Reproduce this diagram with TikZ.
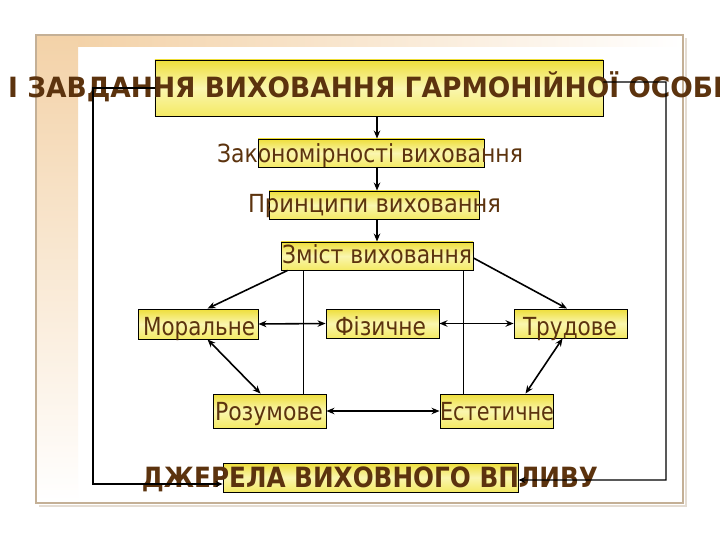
\documentclass[tikz,border=0pt]{standalone}
\usepackage{fontspec}
\setmainfont{DejaVu Sans}
\usepackage{graphicx}
\usetikzlibrary{arrows.meta,calc}
\definecolor{txt}{RGB}{92,51,14}
\definecolor{ytop}{RGB}{238,222,58}
\definecolor{ymid}{RGB}{250,246,175}
\definecolor{ybot}{RGB}{244,234,100}
\definecolor{tanc}{RGB}{243,210,168}
\definecolor{framec}{RGB}{196,176,150}
\definecolor{shadowc}{RGB}{228,220,210}
\newlength\fitlen
\newcommand\fitto[2]{\settowidth\fitlen{#2}\pgfmathsetmacro\fitsx{#1/\fitlen}\scalebox{\fitsx}[1]{#2}}
\begin{document}
\begin{tikzpicture}[x=1bp,y=-1bp,
  ybox/.style={draw=black, line width=0.9bp, top color=ytop, bottom color=ybot, middle color=ymid, inner sep=0pt},
  lbl/.style={text=txt, inner sep=0pt, anchor=base, font=\fontsize{25}{25}\selectfont},
  blbl/.style={text=txt, inner sep=0pt, anchor=base, font=\bfseries\fontsize{28}{28}\selectfont},
  arr/.style={line width=1.6bp, -{Stealth[length=8bp,width=6.5bp]}},
  darr/.style={line width=1.6bp, {Stealth[length=8bp,width=6.5bp]}-{Stealth[length=8bp,width=6.5bp]}},
  tline/.style={line width=1.2bp, -{Stealth[length=7bp,width=6bp]}},
  thinline/.style={line width=1bp}]
\useasboundingbox (0,0) rectangle (720,540);
% slide background
\fill[white] (0,0) rectangle (720,540);
\shade[top color=tanc, bottom color=white] (36,35) rectangle (78,503);
\shade[left color=tanc, right color=white] (78,35) rectangle (683,47);
\draw[shadowc, line width=1.5bp] (39,506) -- (686,506) -- (686,38);
\draw[framec, line width=2bp] (36,35) rectangle (683,503);
% boxes
\node[ybox, minimum width=448bp, minimum height=56bp] (title) at (379,88) {};
\node[ybox, minimum width=226bp, minimum height=28bp] (zak) at (371,153) {};
\node[ybox, minimum width=210bp, minimum height=28bp] (pryn) at (374,205) {};
\node[ybox, minimum width=192bp, minimum height=28bp] (zmist) at (377,256) {};
\node[ybox, minimum width=120bp, minimum height=30bp] (moral) at (198,324) {};
\node[ybox, minimum width=113bp, minimum height=29bp] (fiz) at (382.5,323.5) {};
\node[ybox, minimum width=113bp, minimum height=29bp] (trud) at (570.5,323.5) {};
\node[ybox, minimum width=113bp, minimum height=34bp] (rozum) at (269.5,411) {};
\node[ybox, minimum width=113bp, minimum height=34bp] (estet) at (496.5,411) {};
\node[ybox, minimum width=295bp, minimum height=29bp] (dzh) at (370.5,477.5) {};
% texts
\node[blbl, anchor=base west] (ttitle) at (8,98) {\fitto{727bp}{I ЗАВДАННЯ ВИХОВАННЯ ГАРМОНІЙНОЇ ОСОБИ}};
\node[lbl] (tzak) at (370,163) {\fitto{306bp}{Закономірності виховання}};
\node[lbl] (tpryn) at (374.5,213) {\fitto{253bp}{Принципи виховання}};
\node[lbl] (tzmist) at (377,264) {\fitto{190bp}{Зміст виховання}};
\node[lbl] (tmoral) at (199,335) {\fitto{112bp}{Моральне}};
\node[lbl] (tfiz) at (380.5,335) {\fitto{91bp}{Фізичне}};
\node[lbl] (ttrud) at (570,335) {\fitto{94bp}{Трудове}};
\node[lbl] (trozum) at (269,420) {\fitto{108bp}{Розумове}};
\node[lbl] (testet) at (497,420) {\fitto{114bp}{Естетичне}};
\node[blbl] (tdzh) at (370,487) {\fitto{456bp}{ДЖЕРЕЛА ВИХОВНОГО ВПЛИВУ}};
% helper coordinates
\coordinate (ax) at (377,0);
\coordinate (vl) at (303,0);
\coordinate (vr) at (463,0);
\coordinate (Lc) at (93,88);
\coordinate (Rc) at (666,82);
% connectors
\draw[arr] (ax |- title.south) -- (ax |- zak.north);
\draw[arr] (ax |- zak.south) -- (ax |- pryn.north);
\draw[arr] (ax |- pryn.south) -- (ax |- zmist.north);
\draw[arr] ([xshift=7bp]zmist.south west) -- ([xshift=70bp]moral.north west);
\draw[arr] ([yshift=-2bp]zmist.east) -- ([xshift=-3.5bp]trud.north);
\draw[thinline] (vl |- zmist.south) -- (vl |- rozum.north);
\draw[thinline] (vr |- zmist.south) -- (vr |- estet.north);
\draw[darr] (moral.east) -- (fiz.west);
\draw[darr] (fiz.east) -- (trud.west);
\draw[darr] (rozum.east) -- (estet.west);
\draw[darr] ([xshift=70bp]moral.south west) -- ([xshift=48bp]rozum.north west);
\draw[darr] ([xshift=49bp]trud.south west) -- ([xshift=86bp]estet.north west);
\draw[tline] (title.west) -- (Lc) |- ([yshift=-6.5bp]dzh.west);
\draw[tline] ([yshift=6bp]title.east) -- (Rc) |- ([yshift=-2.5bp]dzh.east);
\end{tikzpicture}
\end{document}
